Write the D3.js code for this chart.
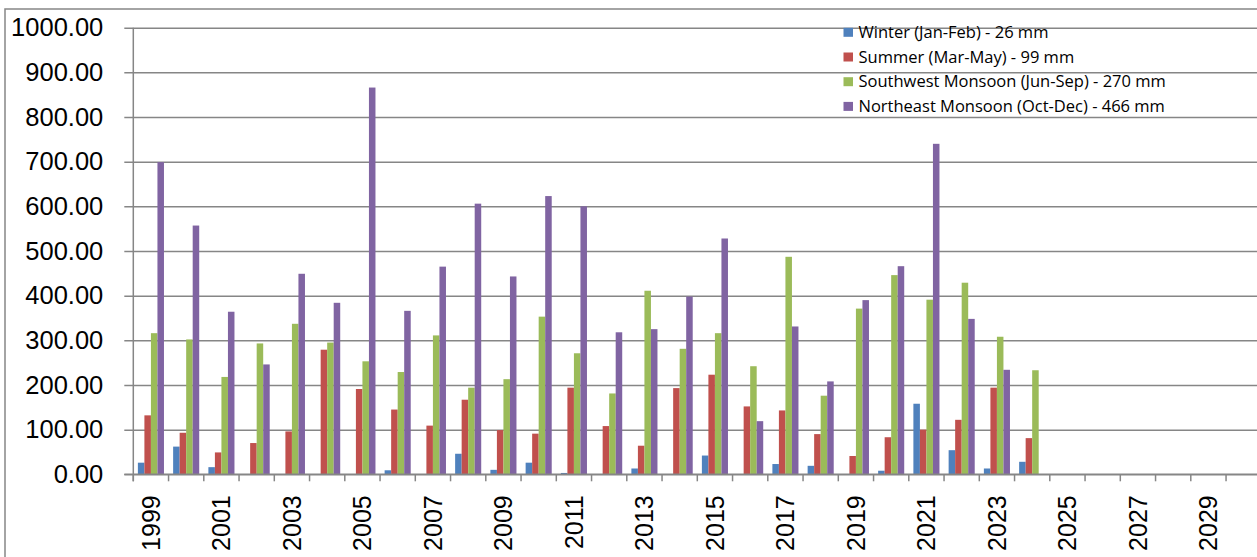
<!DOCTYPE html>
<html>
<head>
<meta charset="utf-8">
<script src="https://cdn.jsdelivr.net/npm/d3@7/dist/d3.min.js"></script>
<style>
  html, body { margin: 0; padding: 0; background: #ffffff; }
  svg { display: block; }
</style>
</head>
<body>
<script>
// Seasonal rainfall (mm) by year
const years = ["1999","2000","2001","2002","2003","2004","2005","2006","2007","2008",
               "2009","2010","2011","2012","2013","2014","2015","2016","2017","2018",
               "2019","2020","2021","2022","2023","2024","2025","2026","2027","2028",
               "2029","2030"];

const winter    = [26, 62, 16, 0, 0, 0, 0, 9, 0, 46, 10, 26, 3, 0, 13, 0, 42, 0, 23, 19, 0, 8, 158, 54, 13, 28];
const summer    = [132, 93, 49, 70, 96, 279, 191, 145, 109, 167, 99, 91, 194, 108, 64, 193, 223, 152, 143, 90, 41, 83, 100, 122, 194, 81];
const southwest = [316, 302, 218, 293, 337, 295, 253, 229, 311, 194, 213, 353, 271, 181, 411, 281, 316, 242, 487, 176, 371, 446, 391, 429, 308, 233];
const northeast = [699, 557, 364, 246, 449, 384, 866, 366, 465, 606, 443, 623, 600, 318, 325, 398, 528, 119, 331, 208, 390, 466, 740, 348, 234];

const seriesNames = [
  "Winter (Jan-Feb) - 26 mm",
  "Summer (Mar-May) - 99 mm",
  "Southwest Monsoon (Jun-Sep) - 270 mm",
  "Northeast Monsoon (Oct-Dec) - 466 mm"
];
const seriesColors = ["#4F81BD", "#C0504D", "#9BBB59", "#8064A2"];
const yTicks = [0, 100, 200, 300, 400, 500, 600, 700, 800, 900, 1000];

const seriesValues = [winter, summer, southwest, northeast];

const W = 1257, H = 557;
const plot = { left: 133.3, top: 27.7, bottom: 474.3, step: 35.25 };
const gridColor = "#868686";

const svg = d3.select("body").append("svg")
  .attr("width", W).attr("height", H)
  .attr("viewBox", `0 0 ${W} ${H}`);

// chart frame
svg.append("rect")
  .attr("x", 5).attr("y", 9)
  .attr("width", W + 10).attr("height", H + 10)
  .attr("fill", "#ffffff")
  .attr("stroke", gridColor).attr("stroke-width", 1.5);

const x = d3.scaleBand()
  .domain(years)
  .range([plot.left, plot.left + plot.step * years.length])
  .paddingInner(0).paddingOuter(0);

const groupWidth = x.bandwidth() * 0.74;
const xs = d3.scaleBand()
  .domain(d3.range(seriesValues.length))
  .range([(x.bandwidth() - groupWidth) / 2, (x.bandwidth() + groupWidth) / 2])
  .padding(0);

const y = d3.scaleLinear().domain([0, 1000]).range([plot.bottom, plot.top]);

// horizontal gridlines + y axis
const yAxis = d3.axisLeft(y)
  .tickValues(yTicks)
  .tickFormat(d3.format(".2f"))
  .tickSize(-(W - plot.left + 20))
  .tickPadding(30);

const gy = svg.append("g")
  .attr("transform", `translate(${plot.left},0)`)
  .call(yAxis);
gy.select(".domain").remove();
gy.selectAll(".tick line")
  .attr("x1", -9)
  .attr("stroke", gridColor).attr("stroke-width", 1.5);
gy.selectAll(".tick text")
  .attr("font-family", "'Liberation Sans', Arial, sans-serif")
  .attr("font-size", 25.5)
  .attr("fill", "#000");

// vertical value axis line
svg.append("line")
  .attr("x1", plot.left).attr("x2", plot.left)
  .attr("y1", y(1000)).attr("y2", plot.bottom + 7)
  .attr("stroke", gridColor).attr("stroke-width", 1.5);

// bars
const barData = [];
seriesValues.forEach((vals, si) => {
  vals.forEach((v, i) => {
    if (v != null && v > 0) barData.push({ year: years[i], s: si, v: v });
  });
});

svg.append("g").selectAll("rect")
  .data(barData)
  .join("rect")
  .attr("x", d => x(d.year) + xs(d.s))
  .attr("width", xs.bandwidth())
  .attr("y", d => y(d.v))
  .attr("height", d => y(0) - y(d.v))
  .attr("fill", d => seriesColors[d.s]);

// category axis
const xAxis = d3.axisBottom(x)
  .tickValues(years.filter((d, i) => i % 2 === 0))
  .tickSize(0)
  .tickPadding(0);

const gx = svg.append("g")
  .attr("transform", `translate(0,${plot.bottom})`)
  .call(xAxis);
gx.select(".domain").remove();
gx.selectAll(".tick text")
  .attr("font-family", "'Liberation Sans', Arial, sans-serif")
  .attr("font-size", 25)
  .attr("fill", "#000")
  .attr("transform", "rotate(-90)")
  .attr("text-anchor", "end")
  .attr("dy", "0.35em")
  .attr("x", -21)
  .attr("y", 0);

// category boundary tick marks
svg.append("g").selectAll("line")
  .data(years)
  .join("line")
  .attr("x1", d => x(d)).attr("x2", d => x(d))
  .attr("y1", plot.bottom).attr("y2", plot.bottom + 7)
  .attr("stroke", gridColor).attr("stroke-width", 1.5);

// baseline
svg.append("line")
  .attr("x1", plot.left - 9).attr("x2", W + 5)
  .attr("y1", plot.bottom).attr("y2", plot.bottom)
  .attr("stroke", gridColor).attr("stroke-width", 1.5);

// legend
const legend = svg.append("g").attr("transform", "translate(843.5,32.3)");
const items = legend.selectAll("g")
  .data(seriesNames)
  .join("g")
  .attr("transform", (d, i) => `translate(0,${i * 24.7})`);
items.append("rect")
  .attr("x", 0).attr("y", -4.5)
  .attr("width", 9.5).attr("height", 9)
  .attr("fill", (d, i) => seriesColors[i]);
items.append("text")
  .attr("x", 15).attr("y", 0)
  .attr("dy", "0.35em")
  .attr("font-family", "'Open Sans', sans-serif")
  .attr("font-size", 16.5)
  .attr("fill", "#000")
  .text(d => d);
</script>
</body>
</html>
